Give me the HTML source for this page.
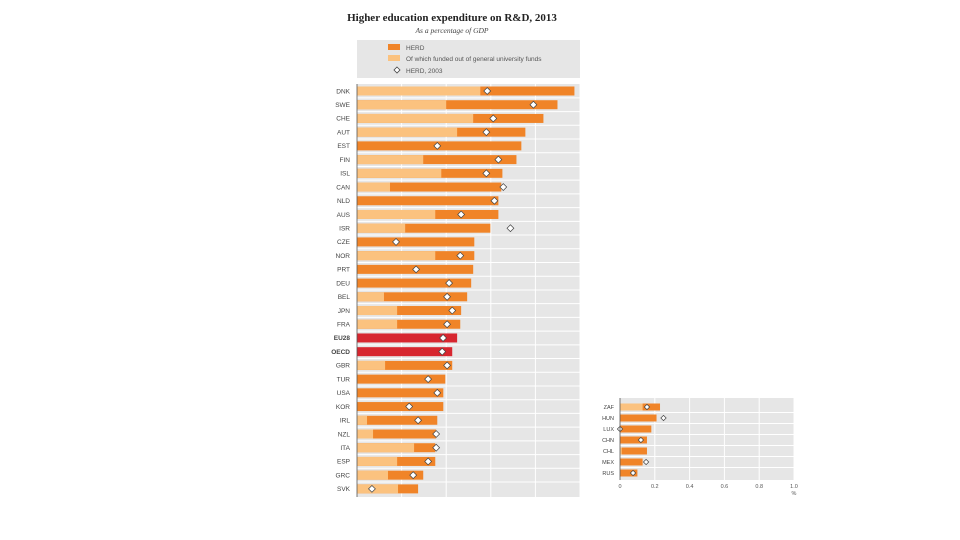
<!DOCTYPE html>
<html><head><meta charset="utf-8"><style>
body{margin:0;background:#fff;width:960px;height:540px;overflow:hidden;font-family:"Liberation Sans",sans-serif}
svg{position:absolute;left:0;top:0}
</style></head><body>
<svg width="960" height="540">
<text x="452" y="21" text-anchor="middle" font-family="Liberation Serif" font-weight="bold" font-size="11" fill="#222">Higher education expenditure on R&amp;D, 2013</text>
<text x="452" y="33" text-anchor="middle" font-family="Liberation Serif" font-style="italic" font-size="7.5" fill="#444">As a percentage of GDP</text>
<g>
<rect x="357" y="40" width="223" height="38" fill="#e6e6e6"/>
<rect x="388" y="44" width="12" height="6" fill="#f08428"/>
<text x="406" y="50" font-size="6.5" fill="#555">HERD</text>
<rect x="388" y="55" width="12" height="6" fill="#fbc27f"/>
<text x="406" y="61" font-size="6.5" fill="#555">Of which funded out of general university funds</text>
<path d="M397,67 l3,3 -3,3 -3,-3z" fill="#fff" stroke="#444" stroke-width="0.8"/>
<text x="406" y="73" font-size="6.5" fill="#555">HERD, 2003</text>
</g>
<g id="main"></g>
<g id="small"></g>
</svg>
<script>
const cats=["DNK","SWE","CHE","AUT","EST","FIN","ISL","CAN","NLD","AUS","ISR","CZE","NOR","PRT","DEU","BEL","JPN","FRA","EU28","OECD","GBR","TUR","USA","KOR","IRL","NZL","ITA","ESP","GRC","SVK"];
const herd=[0.975,0.899,0.836,0.755,0.737,0.715,0.652,0.647,0.634,0.634,0.598,0.526,0.526,0.521,0.512,0.494,0.467,0.463,0.449,0.427,0.427,0.396,0.387,0.387,0.360,0.355,0.351,0.351,0.297,0.274];
const gufs=[0.553,0.400,0.521,0.449,0,0.297,0.378,0.148,0,0.351,0.216,0,0.351,0,0,0.121,0.180,0.180,0,0,0.126,0,0,0,0.045,0.072,0.256,0.18,0.139,0.184];
const herd03=[0.584,0.791,0.611,0.580,0.360,0.634,0.580,0.656,0.616,0.467,0.688,0.175,0.463,0.265,0.413,0.404,0.427,0.404,0.386,0.382,0.404,0.319,0.360,0.234,0.274,0.355,0.355,0.319,0.252,0.067];
const cats2=["ZAF","HUN","LUX","CHN","CHL","MEX","RUS"];
const herd2=[0.23,0.21,0.18,0.155,0.155,0.13,0.10];
const gufs2=[0.13,0,0,0,0.01,0,0];
const herd032=[0.155,0.25,0,0.12,null,0.15,0.075];
const ticks2=["0","0.2","0.4","0.6","0.8","1.0"];
const NS="http://www.w3.org/2000/svg";
function mk(p,t,a){const e=document.createElementNS(NS,t);for(const k in a)e.setAttribute(k,a[k]);p.appendChild(e);return e;}
function draw(g,x0,x1,y0,y1,first,step,bh,c,h,u,d,fs,lblX){
 const sx=v=>x0+v*(x1-x0);
 const bg=mk(g,'rect',{x:x0,y:y0,width:x1-x0,height:y1-y0,fill:'#e6e6e6'});
 
 
 for(let i=1;i<=5;i++){const l=mk(g,'line',{x1:sx(i*0.2),x2:sx(i*0.2),y1:y0,y2:y1,stroke:'#fff','stroke-width':1});
  
  }
 c.forEach((n,i)=>{const y=first+i*step;
  if(i>0){const s=mk(g,'line',{x1:x0,x2:x1,y1:y-step/2,y2:y-step/2,stroke:'#fff','stroke-width':1});
   
   }
  const agg=(n==="EU28"||n==="OECD");
  const b=mk(g,'rect',{x:x0,y:y-bh/2,width:sx(h[i])-x0,height:bh,fill:agg?'#d7262f':'#f08428'});
  
  
  if(u[i]>0){const b2=mk(g,'rect',{x:x0,y:y-bh/2,width:sx(u[i])-x0,height:bh,fill:'#fbc27f'});
   
   }
  if(d[i]!==null){const x=sx(d[i]),r=bh*0.38;
   const m=mk(g,'path',{d:`M${x},${y-r} L${x+r},${y} L${x},${y+r} L${x-r},${y}Z`,fill:'#fff',stroke:'#444','stroke-width':0.7});
   
   }
  const t=mk(g,'text',{x:lblX,y:y+fs*0.35,'text-anchor':'end','font-size':fs,fill:'#444','font-weight':agg?'bold':'normal'});
  t.textContent=n;
  
  
 });
 const ax=mk(g,'line',{x1:x0,x2:x0,y1:y0,y2:y1,stroke:'#555','stroke-width':0.8});
 
 
}
draw(document.getElementById('main'),357,580,84,497,91,13.72,9,cats,herd,gufs,herd03,6.5,350);
const sg=document.getElementById('small');
draw(sg,620,794,398,480,407,11,7,cats2,herd2,gufs2,herd032,5.5,614);
ticks2.forEach((t,i)=>{const x=620+i*0.2*174;
 const e=mk(sg,'text',{x:x,y:488,'text-anchor':'middle','font-size':5.5,fill:'#555'});
 e.textContent=t;
 
 });
const pu=mk(sg,'text',{x:794,y:495,'text-anchor':'middle','font-size':5.5,fill:'#555'});
pu.textContent='%';


</script>
</body></html>
